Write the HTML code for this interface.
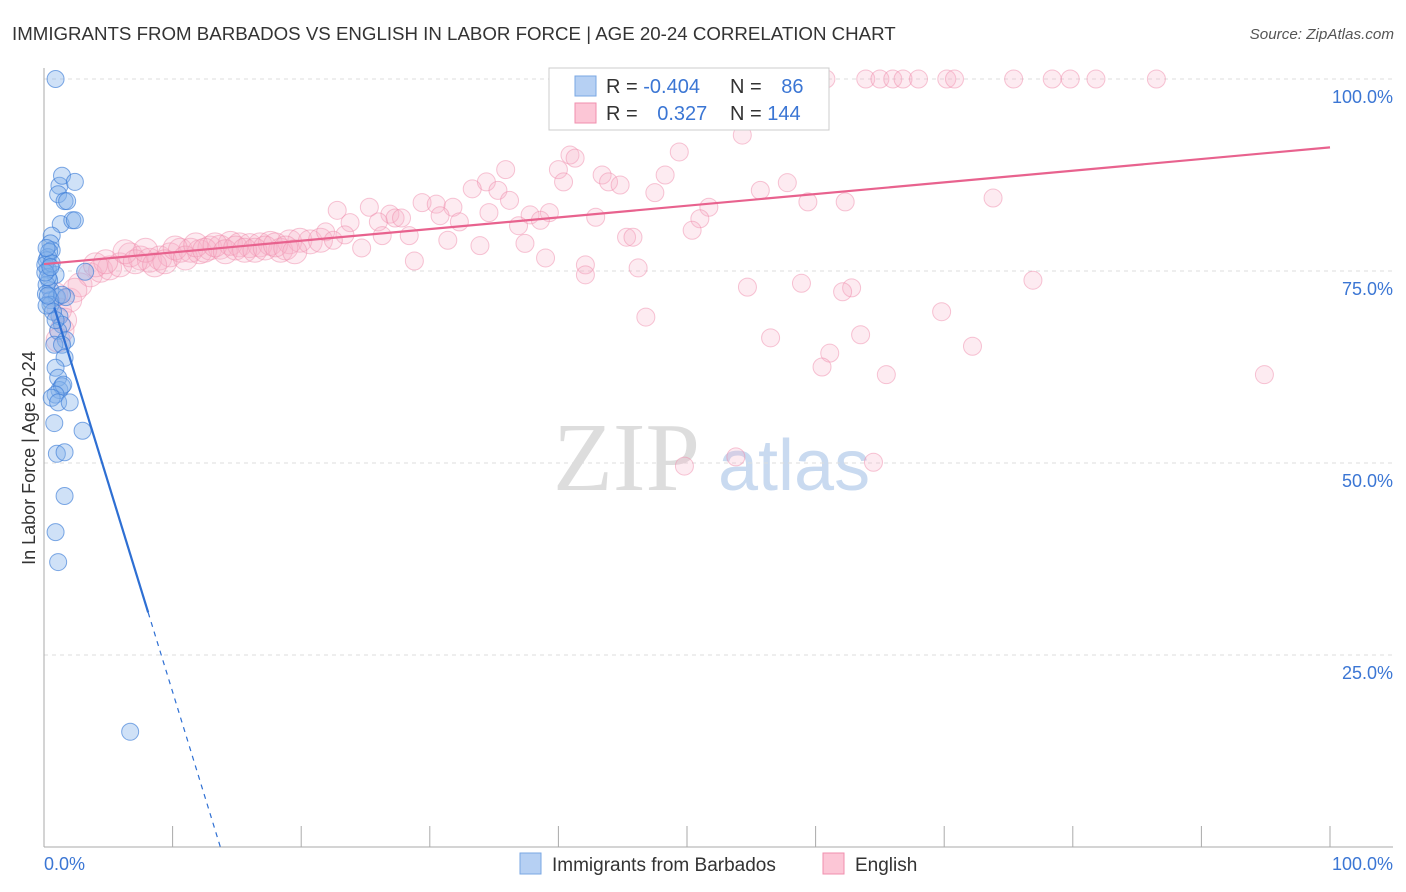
<!DOCTYPE html>
<html><head><meta charset="utf-8"><style>
body{margin:0;background:#fff;font-family:"Liberation Sans",sans-serif}
svg{display:block}
</style></head><body>
<svg id="c" width="1406" height="892" xmlns="http://www.w3.org/2000/svg">
<text x="12" y="40" font-size="18.7" fill="#333">IMMIGRANTS FROM BARBADOS VS ENGLISH IN LABOR FORCE | AGE 20-24 CORRELATION CHART</text>
<text x="1394" y="39" font-size="15.2" fill="#555" text-anchor="end" font-style="italic">Source: ZipAtlas.com</text>
<text x="35" y="458" font-size="18" fill="#333" text-anchor="middle" transform="rotate(-90 35 458)">In Labor Force | Age 20-24</text>
<g><text x="553" y="490" font-size="98" font-family="Liberation Serif,serif" fill="#ddd">ZIP</text><text x="718" y="490" font-size="72" fill="#c9daf0">atlas</text></g>
<g id="grid"></g><g id="pts"></g><g id="lines"></g>
<g>
<rect x="549" y="68" width="280" height="62" fill="#fff" stroke="#ccc"/>
<rect x="575" y="76" width="21" height="20" fill="#b6d0f3" stroke="#7aa7e3"/>
<rect x="575" y="103" width="21" height="20" fill="#fcc6d6" stroke="#f08fae"/>
<text x="606" y="93" font-size="20" fill="#333">R = <tspan fill="#3b76d4">-0.404</tspan></text>
<text x="730" y="93" font-size="20" fill="#333">N = <tspan fill="#3b76d4" dx="14">86</tspan></text>
<text x="606" y="120" font-size="20" fill="#333">R = <tspan fill="#3b76d4" dx="14">0.327</tspan></text>
<text x="730" y="120" font-size="20" fill="#333">N = <tspan fill="#3b76d4">144</tspan></text>
</g>
<g>
<rect x="520" y="853" width="21" height="21" fill="#b6d0f3" stroke="#7aa7e3"/>
<text x="552" y="871" font-size="19" fill="#333">Immigrants from Barbados</text>
<rect x="823" y="853" width="21" height="21" fill="#fcc6d6" stroke="#f08fae"/>
<text x="855" y="871" font-size="19" fill="#333">English</text>
</g>
</svg>
<script>
const yTicks=[25,50,75,100];
const yTickLabels=["25.0%","50.0%","75.0%","100.0%"];
const xTicks=[0,10,20,30,40,50,60,70,80,90,100];
const blueX=[0.9,1.2,1.1,1.4,2.4,1.6,1.8,1.3,2.2,2.4,0.6,0.5,0.6,0.3,0.9,0.5,1.0,1.7,1.2,1.4,1.1,1.7,0.8,1.4,1.6,0.9,1.1,1.2,1.4,1.5,0.9,0.6,1.1,2.0,0.8,3.0,1.0,1.6,1.6,0.9,1.1,6.7,3.2,0.3,0.4,0.5,0.2,0.15,0.5,0.7,0.9,1.4,0.2,0.1,0.3,0.2,0.4,0.6,0.1,0.3,0.5,0.2];
const blueY=[100,86.1,85.0,87.4,86.6,84.1,84.1,81.1,81.6,81.6,79.6,78.6,77.7,76.8,74.5,72.5,71.6,71.6,69.1,68.0,67.2,66.0,65.4,65.4,63.7,62.4,61.1,59.5,60.0,60.2,58.9,58.5,57.9,57.9,55.2,54.2,51.2,51.4,45.7,41.0,37.1,15.0,74.9,75.2,73.8,71.2,73.2,72.0,70.6,69.7,68.6,71.9,76.4,75.8,74.2,70.5,77.5,76.0,74.8,71.8,75.5,78.0];
const pinkX=[48.8,51.0,52.3,53.1,54.5,55.7,56.6,58.8,59.7,60.8,63.9,65.0,66.0,66.8,68.0,70.2,70.8,75.4,78.4,79.8,81.8,86.5,
54.3,49.4,40.9,41.3,35.9,40.0,43.4,43.9,44.8,48.3,34.4,40.4,33.3,35.3,47.5,55.7,57.8,22.8,25.3,29.4,30.5,31.8,30.8,26.9,27.3,27.8,34.6,36.2,37.8,39.3,42.9,38.6,59.4,62.3,73.8,51.7,51.0,23.8,26.0,32.3,36.9,50.4,21.9,23.4,26.3,28.4,31.4,33.9,37.4,45.3,45.8,22.5,24.7,39.0,42.1,42.1,28.8,46.2,76.9,54.7,58.9,62.8,62.1,46.8,69.8,56.5,63.5,72.2,61.1,60.5,65.5,94.9,49.8,53.8,64.5];
const pinkY=[100,100,100,100,100,100,100,100,100,100,100,100,100,100,100,100,100,100,100,100,100,100,
92.7,90.5,90.1,89.7,88.2,88.2,87.5,86.6,86.2,87.5,86.6,86.6,85.7,85.5,85.2,85.5,86.5,82.9,83.3,83.9,83.7,83.3,82.2,82.4,81.9,81.9,82.6,84.2,82.3,82.6,82.0,81.6,84.0,84.0,84.5,83.3,81.8,81.3,81.4,81.4,80.9,80.3,80.1,79.7,79.6,79.6,79.0,78.3,78.6,79.4,79.4,79.0,78.0,76.7,75.8,74.5,76.3,75.4,73.8,72.9,73.4,72.8,72.3,69.0,69.7,66.3,66.7,65.2,64.3,62.5,61.5,61.5,49.6,50.8,50.1];
const bandX=[2.0,2.8,3.6,4.4,5.1,5.9,6.7,7.5,8.2,9.0,9.8,10.6,11.4,12.1,12.9,13.7,14.5,15.2,16.0,16.8,17.6,18.4,19.1,19.9,20.7,21.5,1.6,1.2,0.9,2.4,1.4,1.1,4.0,4.8,6.3,7.1,7.9,8.6,9.4,10.2,11.0,11.8,12.5,13.3,14.1,14.9,15.6,16.4,17.2,18.0,18.8,19.5];
const bandY=[71.2,73.2,74.5,75.1,75.4,75.8,77.1,76.7,76.4,76.7,77.1,77.7,77.7,77.5,78.0,78.1,78.6,78.4,78.3,78.4,78.6,77.7,78.8,79.0,78.8,79.0,68.6,69.9,71.9,72.5,67.3,66.0,75.8,76.2,77.5,76.2,77.7,75.8,76.2,78.0,76.7,78.4,77.7,78.4,77.5,78.0,77.7,77.7,78.0,78.4,78.0,77.5];
const blueTrend=[74.6,-5.44];
const pinkTrend=[75.9,0.152];
const X=v=>44+v*12.86, Y=v=>847-v*7.68;
const NS="http://www.w3.org/2000/svg";
function mk(p,t,a){const e=document.createElementNS(NS,t);for(const k in a)e.setAttribute(k,a[k]);p.appendChild(e);return e;}
const grid=document.getElementById('grid');
yTicks.forEach((t,i)=>{
 const l=mk(grid,'line',{x1:44,x2:1393,y1:Y(t),y2:Y(t),stroke:'#ddd','stroke-dasharray':'4,4'});
 
 
 const tx=mk(grid,'text',{x:1393,y:Y(t)+24,'font-size':18,fill:'#3b76d4','text-anchor':'end'});
 tx.textContent=yTickLabels[i];
 
 
});
const ax=mk(grid,'line',{x1:44,x2:44,y1:68,y2:847,stroke:'#aaa'});


const bx=mk(grid,'line',{x1:44,x2:1393,y1:847,y2:847,stroke:'#aaa'});


xTicks.forEach(t=>{const l=mk(grid,'line',{x1:X(t),x2:X(t),y1:826,y2:847,stroke:'#aaa'});
 
 });
const x0=mk(grid,'text',{x:44,y:870,'font-size':18,fill:'#3b76d4'});x0.textContent='0.0%';


const x1=mk(grid,'text',{x:1393,y:870,'font-size':18,fill:'#3b76d4','text-anchor':'end'});x1.textContent='100.0%';


const pts=document.getElementById('pts');
const PF='rgba(249,175,198,0.25)', PS='rgba(240,140,172,0.5)';
bandX.forEach((v,i)=>{const c=mk(pts,'circle',{cx:X(v),cy:Y(bandY[i]),r:12,fill:PF,stroke:PS});
 
 });
pinkX.forEach((v,i)=>{const c=mk(pts,'circle',{cx:X(v),cy:Y(pinkY[i]),r:9,fill:PF,stroke:PS});
 
 });
blueX.forEach((v,i)=>{const c=mk(pts,'circle',{cx:X(v),cy:Y(blueY[i]),r:8.5,fill:'rgba(130,175,235,0.38)',stroke:'rgba(60,125,215,0.65)'});
 
 });
const ln=document.getElementById('lines');
const pl=mk(ln,'line',{x1:X(0),y1:Y(pinkTrend[0]),x2:X(100),y2:Y(pinkTrend[0]+pinkTrend[1]*100),stroke:'#e8628e','stroke-width':2.2});


const xs=0.8, xe=8.1, xz=-blueTrend[0]/blueTrend[1];
const bl=mk(ln,'line',{x1:X(xs),y1:Y(blueTrend[0]+blueTrend[1]*xs),x2:X(xe),y2:Y(blueTrend[0]+blueTrend[1]*xe),stroke:'#2e6fd3','stroke-width':2.2});


const bd=mk(ln,'line',{x1:X(xe),y1:Y(blueTrend[0]+blueTrend[1]*xe),x2:X(xz),y2:Y(0),stroke:'#2e6fd3','stroke-width':1.2,'stroke-dasharray':'5,5'});


</script>
</body></html>
